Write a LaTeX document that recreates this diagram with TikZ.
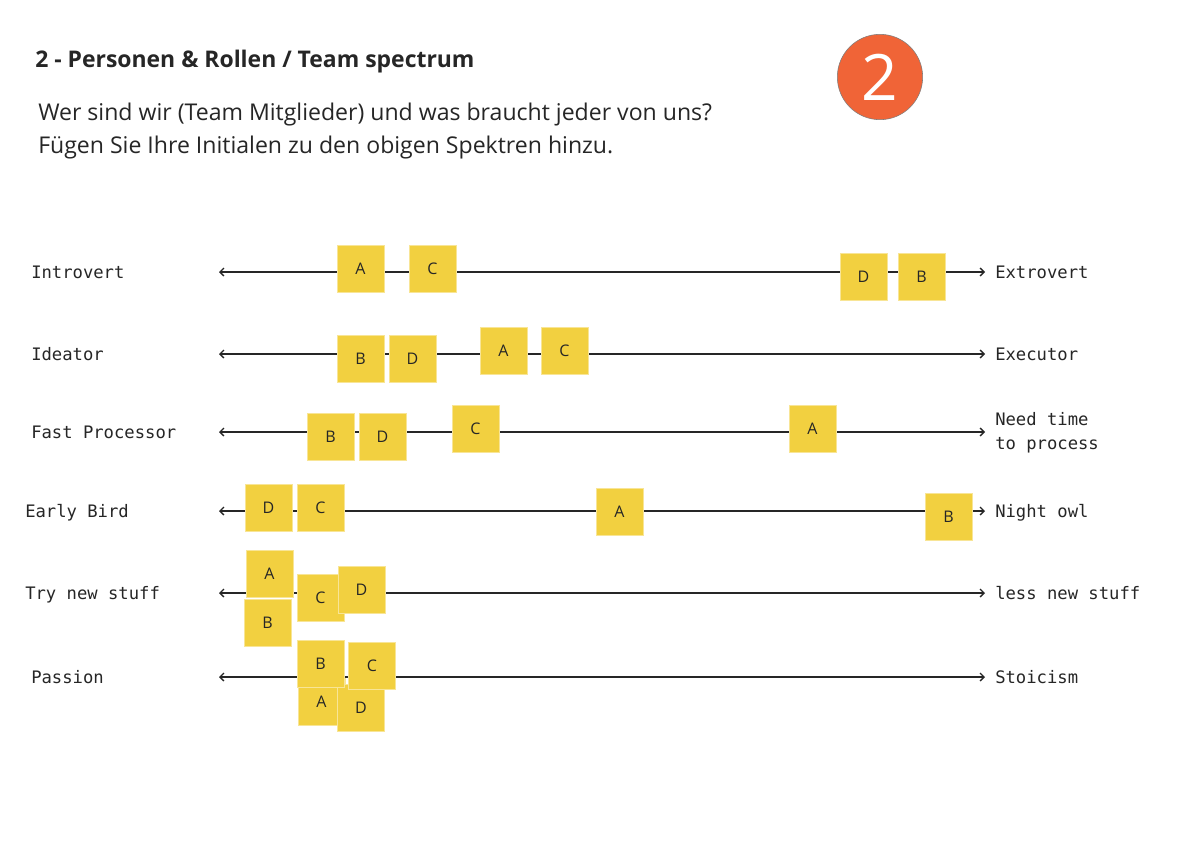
\documentclass[tikz,border=0pt]{standalone}
\usepackage{fontspec}
\setmainfont{Open Sans}
\setmonofont{DejaVu Sans Mono}
\usetikzlibrary{arrows.meta}
\definecolor{sticky}{RGB}{242,208,64}
\definecolor{badge}{RGB}{240,100,55}
\definecolor{ink}{RGB}{38,38,38}

\begin{document}
\begin{tikzpicture}[x=0.75pt,y=-0.75pt,
  spec/.style={draw=ink, line width=1pt, {Straight Barb[length=3pt,width=6pt]}-{Straight Barb[length=3pt,width=6pt]}},
  note/.style={fill=sticky, draw=sticky!55!white, line width=0.5pt, minimum size=35pt, inner sep=0pt, text=ink, font=\fontsize{12}{14}\selectfont},
  pole/.style={anchor=base west, inner sep=0pt, text=ink, font=\ttfamily\fontsize{12.9}{18}\selectfont}]
 \useasboundingbox (0,0) rectangle (1200,858);
 \fill[white] (0,0) rectangle (1200,858);

 % heading
 \node[anchor=base west, inner sep=0pt, text=ink, font=\bfseries\fontsize{17.2}{20}\selectfont] (title) at (35,67) {2 - Personen \& Rollen / Team spectrum};
 \node[anchor=base west, inner sep=0pt, text=ink, font=\fontsize{17.3}{20}\selectfont] (ask1) at (38,120) {Wer sind wir (Team Mitglieder) und was braucht jeder von uns?};
 \node[anchor=base west, inner sep=0pt, text=ink, font=\fontsize{17.3}{20}\selectfont] (ask2) at (38,153) {Fügen Sie Ihre Initialen zu den obigen Spektren hinzu.};
 \node[circle, fill=badge, draw=ink!60, line width=0.4pt, minimum size=64pt, inner sep=0pt, text=white, font=\fontsize{48}{50}\selectfont] (badge) at (880,77) {2};

 % spectra
 \coordinate (introL) at (219,272); \coordinate (introR) at (985,272);
 \coordinate (ideaL) at (219,354); \coordinate (ideaR) at (985,354);
 \coordinate (fastL) at (219,432); \coordinate (fastR) at (985,432);
 \coordinate (earlyL) at (219,511); \coordinate (earlyR) at (985,511);
 \coordinate (tryL) at (219,593); \coordinate (tryR) at (985,593);
 \coordinate (passL) at (219,677); \coordinate (passR) at (985,677);
 \draw[spec] (introL) -- (introR);
 \draw[spec] (ideaL) -- (ideaR);
 \draw[spec] (fastL) -- (fastR);
 \draw[spec] (earlyL) -- (earlyR);
 \draw[spec] (tryL) -- (tryR);
 \draw[spec] (passL) -- (passR);

 \node[pole] (introvert) at (31,278) {Introvert};
 \node[pole] (extrovert) at (995,278) {Extrovert};
 \node[pole] (ideator) at (31,360) {Ideator};
 \node[pole] (executor) at (995,360) {Executor};
 \node[pole] (fast) at (31,438) {Fast Processor};
 \node[pole, anchor=west, align=left] (slow) at (995,433) {Need time\\to process};
 \node[pole] (early) at (25,517) {Early Bird};
 \node[pole] (night) at (995,517) {Night owl};
 \node[pole] (trynew) at (25,599) {Try new stuff};
 \node[pole] (lessnew) at (995,599) {less new stuff};
 \node[pole] (passion) at (31,683) {Passion};
 \node[pole] (stoic) at (995,683) {Stoicism};

 % initials
 \node[note] (introA) at (360.5,268.5) {A};
 \node[note] (introC) at (432.5,268.5) {C};
 \node[note] (introD) at (863.5,276.5) {D};
 \node[note] (introB) at (921.5,276.5) {B};

 \node[note] (ideaB) at (360.5,358.5) {B};
 \node[note] (ideaD) at (412.5,358.5) {D};
 \node[note] (ideaA) at (503.5,350.5) {A};
 \node[note] (ideaC) at (564.5,350.5) {C};

 \node[note] (fastB) at (330.5,436.5) {B};
 \node[note] (fastD) at (382.5,436.5) {D};
 \node[note] (fastC) at (475.5,428.5) {C};
 \node[note] (fastA) at (812.5,428.5) {A};

 \node[note] (earlyD) at (268.5,507.5) {D};
 \node[note] (earlyC) at (320.5,507.5) {C};
 \node[note] (earlyA) at (619.5,511.5) {A};
 \node[note] (earlyB) at (948.5,516.5) {B};

 \node[note] (tryA) at (269.5,574) {A};
 \node[note] (tryB) at (267.5,623) {B};
 \node[note] (tryC) at (320.5,598) {C};
 \node[note] (tryD) at (361.5,590) {D};

 \node[note] (passA) at (321.5,701.5) {A};
 \node[note] (passD) at (361,707.5) {D};
 \node[note] (passB) at (320.5,664) {B};
 \node[note] (passC) at (372,666) {C};
\end{tikzpicture}
\end{document}
